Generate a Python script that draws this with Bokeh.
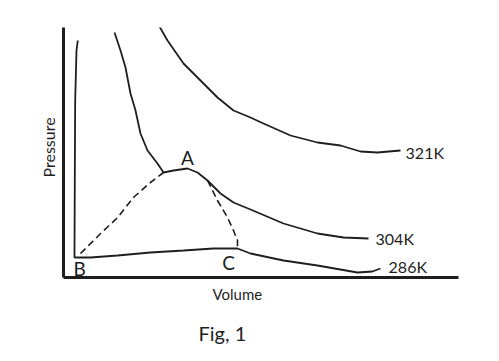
from bokeh.plotting import figure
from bokeh.models import Range1d, Title, FixedTicker
from bokeh.core.properties import value
from bokeh.embed import file_html
from bokeh.resources import INLINE

# Isotherm 286 K (liquid branch -> B..C flat -> gas branch)
v286 = [0.362, 0.329, 0.296, 0.286, 0.278, 0.684, 1.367, 2.203, 3.038, 3.797, 4.405, 4.734, 5.570, 6.430, 7.443, 7.82, 8.025]
p286 = [9.48, 9.08, 7.08, 3.88, 0.80, 0.80, 0.88, 1.00, 1.08, 1.16, 1.16, 0.96, 0.68, 0.48, 0.20, 0.24, 0.36]

# Isotherm 304 K
v304 = [1.291, 1.443, 1.570, 1.696, 1.823, 1.949, 2.127, 2.380, 2.532, 2.785, 3.139, 3.392, 3.646, 3.975, 4.304, 4.734, 5.570, 6.430, 7.089, 7.722]
p304 = [9.80, 9.08, 8.40, 7.36, 6.68, 5.76, 5.08, 4.56, 4.20, 4.28, 4.36, 4.20, 3.88, 3.36, 3.00, 2.72, 2.16, 1.76, 1.60, 1.56]

# Isotherm 321 K
v321 = [2.43, 2.633, 3.038, 3.468, 3.899, 4.304, 4.734, 5.063, 5.747, 6.430, 7.013, 7.519, 7.949, 8.532]
p321 = [10.04, 9.48, 8.56, 7.88, 7.20, 6.68, 6.40, 6.16, 5.68, 5.40, 5.28, 5.04, 5.00, 5.08]

# Coexistence dome (dashed)
v_dome_left = [0.43, 0.94, 1.37, 1.77, 2.20, 2.532]
p_dome_left = [0.96, 1.76, 2.40, 3.20, 3.80, 4.20]
v_dome_right = [3.646, 3.899, 4.152, 4.304, 4.405, 4.405]
p_dome_right = [3.88, 3.08, 2.40, 1.88, 1.48, 1.16]

iso_labels = ["321K", "304K", "286K"]
iso_label_v = [8.66, 7.90, 8.23]
iso_label_p = [5.00, 1.56, 0.44]

pt_labels = ["A", "B", "C"]
pt_label_v = [3.14, 0.41, 4.18]
pt_label_p = [4.80, 0.36, 0.60]

x_title = "Volume"
y_title = "Pressure"
caption = "Fig, 1"

INK = "#1e1e1e"
FONT = "Lato"

p = figure(width=499, height=361, output_backend="svg", toolbar_location=None,
           x_range=Range1d(0, 10), y_range=Range1d(0, 10),
           min_border_left=63, min_border_right=41, min_border_top=27, min_border_bottom=84)
p.outline_line_color = None
p.grid.grid_line_color = None
p.background_fill_color = "white"
p.border_fill_color = "white"
for ax in (p.xaxis, p.yaxis):
    ax.ticker = FixedTicker(ticks=[])
    ax.major_tick_line_color = None
    ax.minor_tick_line_color = None
    ax.axis_line_width = 3
    ax.axis_line_color = INK

p.line(v286, p286, line_width=1.8, line_color=INK)
p.line(v304, p304, line_width=1.8, line_color=INK)
p.line(v321, p321, line_width=1.8, line_color=INK)
p.line(v_dome_left, p_dome_left, line_width=1.6, line_color=INK, line_dash="7 4")
p.line(v_dome_right, p_dome_right, line_width=1.6, line_color=INK, line_dash="7 4")

p.text(iso_label_v, iso_label_p, text=iso_labels, text_font=value(FONT),
       text_font_size="16px", text_color=INK, text_align="left", text_baseline="middle")
p.text(pt_label_v, pt_label_p, text=pt_labels, text_font=value(FONT),
       text_font_size="19px", text_color=INK, text_align="center", text_baseline="middle")

p.add_layout(Title(text=y_title, align="left", offset=100, standoff=12,
                   text_font=FONT, text_font_size="16px", text_font_style="normal",
                   text_color=INK), "left")
p.add_layout(Title(text=x_title, align="left", offset=149, standoff=10,
                   text_font=FONT, text_font_size="15px", text_font_style="normal",
                   text_color=INK), "below")
p.add_layout(Title(text=caption, align="left", offset=135, standoff=22,
                   text_font=FONT, text_font_size="20px", text_font_style="normal",
                   text_color=INK), "below")

open("out.html", "w").write(file_html(p, INLINE))
